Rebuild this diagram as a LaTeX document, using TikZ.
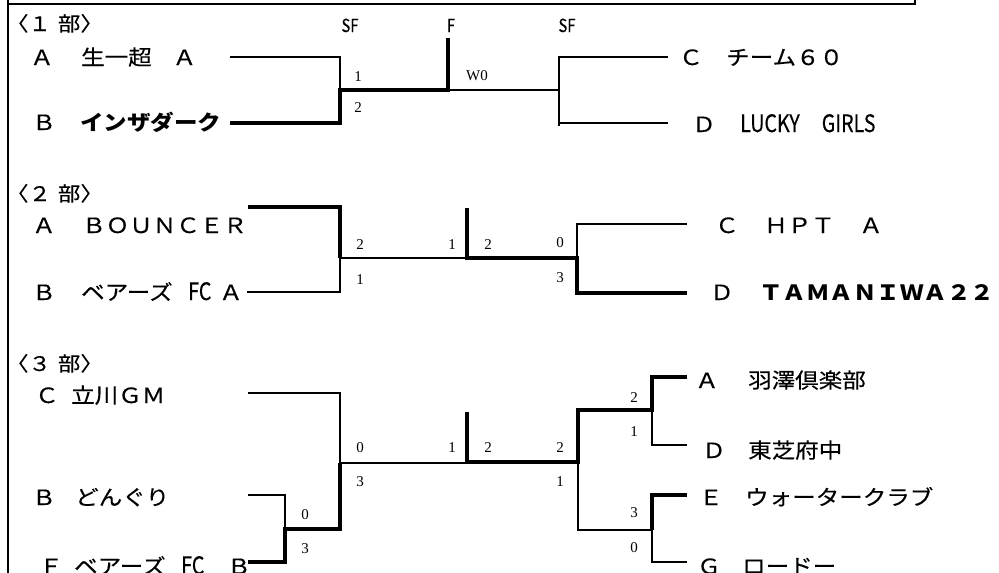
\documentclass[tikz,border=0pt]{standalone}
\usepackage{fontspec}
\setmainfont{Liberation Serif}
\newfontfamily\jp[FakeStretch=1.12,FakeBold=0.35,BoldFeatures={FakeBold=0}]{Noto Sans CJK JP}
\newfontfamily\nar[FakeStretch=0.82,FakeBold=0.3]{Noto Sans CJK JP}
\begin{document}
\begin{tikzpicture}[x=1pt,y=-1pt,
  team/.style={anchor=base west,inner sep=0pt,font=\jp\fontsize{21}{21}\selectfont},
  teamb/.style={team,font=\jp\bfseries\fontsize{21}{21}\selectfont},
  narrow/.style={anchor=base west,inner sep=0pt,font=\nar\fontsize{24}{24}\selectfont},
  head/.style={anchor=base west,inner sep=0pt,font=\jp\fontsize{20}{20}\selectfont},
  rnd/.style={anchor=base,inner sep=0pt,font=\nar\fontsize{18}{18}\selectfont},
  score/.style={inner sep=0pt,font=\fontsize{15}{15}\selectfont},
  thn/.style={line width=1.2pt,line cap=butt},
  thk/.style={line width=4.2pt,line cap=butt,line join=miter}]
\useasboundingbox (0,0) rectangle (999,573);
% frame
\draw[thn] (8,0) -- (8,573);
\draw[thn] (8,4) -- (915,4) -- (915,0);
% ---------- section 1
\node[head] (h1) at (6,31) {〈１\hspace{7pt}部〉};
\node[rnd] (sf1) at (350,32) {SF};
\node[rnd] (f1) at (451,32) {F};
\node[rnd] (sf2) at (567,32) {SF};
\node[team] (a1l) at (30,65) {Ａ};
\node[team] (a1n) at (81,65) {生一超\hspace{21pt}Ａ};
\node[team] (b1l) at (32,130) {Ｂ};
\node[teamb] (b1n) at (80,130) {インザダーク};
\node[team] (c1l) at (679,65) {Ｃ};
\node[team] (c1n) at (726,65) {チーム６０};
\node[team] (d1l) at (692,132) {Ｄ};
\node[narrow] (d1n) at (740,132) {LUCKY\hspace{22pt}GIRLS};
\draw[thn] (230,57) -- (340,57) -- (340,90);
\draw[thk] (230,123) -- (340,123) -- (340,90) -- (448,90) -- (448,38);
\draw[thn] (448,90) -- (559,90);
\draw[thn] (668,57) -- (559,57) -- (559,126);
\draw[thn] (559,123) -- (668,123);
\node[score] (s11) at (358,77) {1};
\node[score] (s12) at (358,108) {2};
\node[score] (s13) at (477,76) {W0};
% ---------- section 2
\node[head] (h2) at (6,201) {〈２\hspace{7pt}部〉};
\node[team] (a2l) at (32,233) {Ａ};
\node[team] (a2n) at (82,233) {ＢＯＵＮＣＥＲ};
\node[team] (b2l) at (32,300) {Ｂ};
\node[team] (b2n) at (81,300) {ベアーズ};
\node[narrow] (b2fc) at (188,300) {FC};
\node[team] (b2a) at (219,300) {Ａ};
\node[team] (c2l) at (715,233) {Ｃ};
\node[team] (c2n) at (764,233) {ＨＰＴ};
\node[team] (c2a) at (859,233) {Ａ};
\node[team] (d2l) at (710,300) {Ｄ};
\node[teamb] (d2n) at (759,300) {ＴＡＭＡＮＩＷＡ２２};
\draw[thk] (248,207) -- (340,207) -- (340,258);
\draw[thn] (340,258) -- (467,258);
\draw[thn] (340,258) -- (340,292) -- (247,292);
\draw[thk] (467,208) -- (467,258) -- (577,258) -- (577,293) -- (687,293);
\draw[thn] (577,258) -- (577,224) -- (687,224);
\node[score] (s21) at (360,245) {2};
\node[score] (s22) at (360,280) {1};
\node[score] (s23) at (452,245) {1};
\node[score] (s24) at (488,245) {2};
\node[score] (s25) at (560,243) {0};
\node[score] (s26) at (560,278) {3};
% ---------- section 3
\node[head] (h3) at (6,371) {〈３\hspace{7pt}部〉};
\node[team] (c3l) at (35,403) {Ｃ};
\node[team] (c3n) at (71,403) {立川ＧＭ};
\node[team] (b3l) at (32,505) {Ｂ};
\node[team] (b3n) at (75,505) {どんぐり};
\node[team] (f3l) at (39,574) {Ｆ};
\node[team] (f3n) at (74,574) {ベアーズ};
\node[narrow] (f3fc) at (181,574) {FC};
\node[team] (f3b) at (227,574) {Ｂ};
\node[team] (a3l) at (695,388) {Ａ};
\node[team] (a3n) at (748,388) {羽澤倶楽部};
\node[team] (d3l) at (702,458) {Ｄ};
\node[team] (d3n) at (748,458) {東芝府中};
\node[team] (e3l) at (699,505) {Ｅ};
\node[team] (e3n) at (745,505) {ウォータークラブ};
\node[team] (g3l) at (697,574) {Ｇ};
\node[team] (g3n) at (742,574) {ロードー};
\draw[thn] (248,393) -- (340,393) -- (340,463);
\draw[thk] (340,463) -- (340,529) -- (285,529) -- (285,562) -- (248,562);
\draw[thn] (248,495) -- (285,495) -- (285,529);
\draw[thn] (340,463) -- (467,463);
\draw[thk] (467,412) -- (467,462) -- (578,462) -- (578,410) -- (652,410) -- (652,377) -- (687,377);
\draw[thn] (652,410) -- (652,445) -- (687,445);
\draw[thn] (578,462) -- (578,530) -- (652,530);
\draw[thk] (652,530) -- (652,495) -- (687,495);
\draw[thn] (652,530) -- (652,562) -- (687,562);
\node[score] (s31) at (305,515) {0};
\node[score] (s32) at (305,549) {3};
\node[score] (s33) at (360,448) {0};
\node[score] (s34) at (360,482) {3};
\node[score] (s35) at (452,448) {1};
\node[score] (s36) at (488,448) {2};
\node[score] (s37) at (560,448) {2};
\node[score] (s38) at (560,482) {1};
\node[score] (s39) at (634,398) {2};
\node[score] (s40) at (634,432) {1};
\node[score] (s41) at (634,513) {3};
\node[score] (s42) at (634,548) {0};
\end{tikzpicture}
\end{document}
